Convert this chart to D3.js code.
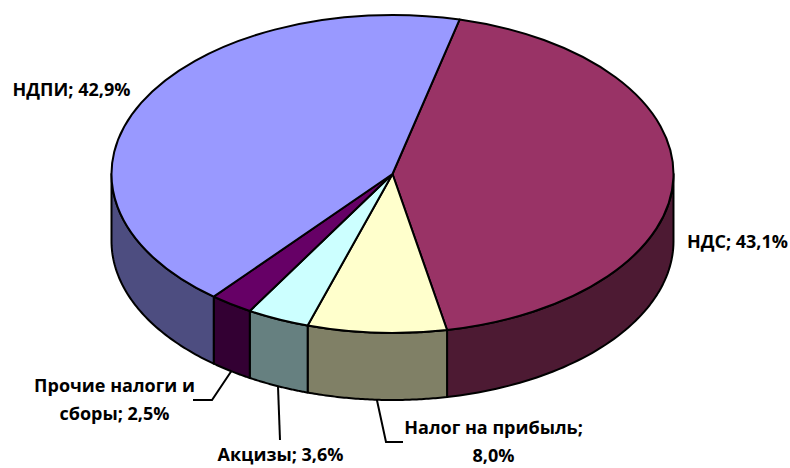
<!DOCTYPE html>
<html><head><meta charset="utf-8">
<script src="https://cdn.jsdelivr.net/npm/d3@7"></script>
<style>body{margin:0;background:#fff}svg{display:block}</style>
</head><body>
<svg id="c" width="790" height="468"></svg>
<script>
// ---- data ----
const categories = ["НДС", "Налог на прибыль", "Акцизы", "Прочие налоги и сборы", "НДПИ"];
const values = [43.1, 8.0, 3.6, 2.5, 42.9];
const valueLabels = ["43,1%", "8,0%", "3,6%", "2,5%", "42,9%"];
const topColors = ["#993366", "#FFFFCC", "#CCFFFF", "#660066", "#9999FF"];
const sideColors = ["#4D1A33", "#808066", "#668080", "#330033", "#4D4D80"];

// ---- layout ----
const W = 790, H = 468;
const cx = 392.5, cy = 174, rx = 281, ry = 159, depth = 67;
const startDeg = 13.8;
const font = "'Open Sans', 'Noto Sans', sans-serif";
const fs = 18;

// label layout: lines, anchor x, first baseline, leader elbow points
const labelLayout = [
  {lines: ["НДС; 43,1%"], x: 737.5, y: 248, leader: null},
  {lines: ["Налог на прибыль;", "8,0%"], x: 493.5, y: 434, leader: [[386, 442], [403, 442]]},
  {lines: ["Акцизы; 3,6%"], x: 280.5, y: 461, leader: [[280, 440]]},
  {lines: ["Прочие налоги и", "сборы; 2,5%"], x: 114.5, y: 392, leader: [[212, 400], [193, 400]]},
  {lines: ["НДПИ; 42,9%"], x: 71.5, y: 96, leader: null}
];

const svg = d3.select("#c");
const pie = d3.pie().sort(null).value(d => d)
  .startAngle(startDeg * Math.PI / 180)
  .endAngle(startDeg * Math.PI / 180 + 2 * Math.PI);
const arcs = pie(values);

const ex = a => cx + rx * Math.sin(a);
const ey = a => cy - ry * Math.cos(a);

// ---- side walls (front half: angles PI/2..3PI/2) ----
const line = d3.line();
const wallG = svg.append("g");
arcs.forEach((d, i) => {
  const a0 = Math.max(d.startAngle, Math.PI / 2);
  const a1 = Math.min(d.endAngle, 3 * Math.PI / 2);
  if (a1 <= a0) return;
  const n = 60;
  const ts = d3.range(n + 1).map(k => a0 + (a1 - a0) * k / n);
  const pts = ts.map(a => [ex(a), ey(a)])
    .concat(ts.slice().reverse().map(a => [ex(a), ey(a) + depth]));
  wallG.append("path")
    .attr("d", line(pts) + "Z")
    .attr("fill", sideColors[i])
    .attr("stroke", "#000")
    .attr("stroke-width", 2)
    .attr("stroke-linejoin", "round");
});

// ---- top faces ----
const arcGen = d3.arc().innerRadius(0).outerRadius(rx);
svg.append("g")
  .attr("transform", `translate(${cx},${cy}) scale(1,${ry / rx})`)
  .selectAll("path").data(arcs).join("path")
  .attr("d", arcGen)
  .attr("fill", (d, i) => topColors[i])
  .attr("stroke", "#000")
  .attr("stroke-width", 2)
  .attr("stroke-linejoin", "round")
  .attr("vector-effect", "non-scaling-stroke");

// ---- leader lines ----
arcs.forEach((d, i) => {
  const L = labelLayout[i];
  if (!L.leader) return;
  const m = (d.startAngle + d.endAngle) / 2;
  const pts = [[ex(m), ey(m) + depth]].concat(L.leader);
  svg.append("path")
    .attr("d", line(pts))
    .attr("fill", "none")
    .attr("stroke", "#000")
    .attr("stroke-width", 2);
});

// ---- labels ----
labelLayout.forEach((L, i) => {
  const t = svg.append("text")
    .attr("x", L.x).attr("y", L.y)
    .attr("text-anchor", "middle")
    .attr("font-family", font)
    .attr("font-weight", "bold")
    .attr("font-size", fs)
    .attr("fill", "#000");
  L.lines.forEach((s, k) => {
    t.append("tspan").attr("x", L.x).attr("y", L.y + k * 28).text(s);
  });
});
</script>
</body></html>
